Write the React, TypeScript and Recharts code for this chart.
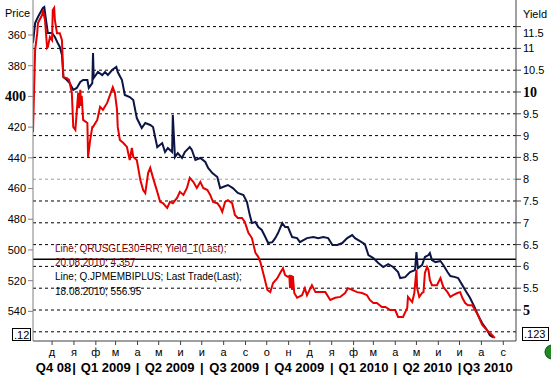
import React from 'react';
import { LineChart, Line, XAxis, YAxis, ReferenceLine } from 'recharts';

const SANS = '"Liberation Sans", Arial, sans-serif';
const SERIF = '"Liberation Serif", "Times New Roman", serif';

// x values are calendar days counted from 4 Nov 2008
const START = Date.UTC(2008, 10, 4);
const SPAN = 684;

const monthStarts = [
  '2008-12-01', '2009-01-01', '2009-02-01', '2009-03-01', '2009-04-01', '2009-05-01',
  '2009-06-01', '2009-07-01', '2009-08-01', '2009-09-01', '2009-10-01', '2009-11-01',
  '2009-12-01', '2010-01-01', '2010-02-01', '2010-03-01', '2010-04-01', '2010-05-01',
  '2010-06-01', '2010-07-01', '2010-08-01', '2010-09-01',
];
const monthLetters = ['д', 'я', 'ф', 'м', 'а', 'м', 'и', 'и', 'а', 'с', 'о', 'н', 'д', 'я', 'ф', 'м', 'а', 'м', 'и', 'и', 'а', 'с'];

const quarterStarts = ['2008-10-01', '2009-01-01', '2009-04-01', '2009-07-01', '2009-10-01', '2010-01-01', '2010-04-01', '2010-07-01', '2010-10-01'];
const quarterLabels = ['Q4 08', 'Q1 2009', 'Q2 2009', 'Q3 2009', 'Q4 2009', 'Q1 2010', 'Q2 2010', 'Q3 2010'];

const priceTicks = [360, 380, 400, 420, 440, 460, 480, 500, 520, 540];
const yieldTicks = [5, 5.5, 6, 6.5, 7, 7.5, 8, 8.5, 9, 9.5, 10, 10.5, 11, 11.5];
const gridValues = [4.5, 5, 5.5, 6, 6.5, 7, 7.5, 8, 8.5, 9, 9.5, 10, 10.5, 11, 11.5];
const markerYield = 6.163;

// Q.JPMEMBIPLUS, Last Trade
const priceDays = [0, 3, 7, 14, 16, 18, 21, 27, 31, 35, 38, 41, 43, 48, 52, 57, 62, 67, 71, 77, 79, 84, 85, 86, 92, 98, 102, 106, 112, 118, 120, 126, 130, 137, 142, 147, 154, 159, 166, 170, 176, 183, 187, 191, 197, 198, 201, 205, 211, 215, 222, 225, 230, 237, 244, 248, 254, 261, 265, 269, 276, 283, 290, 298, 303, 307, 310, 315, 319, 324, 329, 333, 339, 343, 347, 353, 357, 361, 367, 374, 378, 383, 388, 397, 404, 411, 418, 424, 431, 438, 445, 452, 456, 463, 470, 475, 482, 489, 496, 503, 510, 517, 520, 527, 534, 541, 543, 545, 551, 555, 560, 562, 565, 570, 577, 581, 587, 591, 598, 602, 608, 612, 619, 626, 630, 636, 643, 647, 652];
const priceValues = [365.2, 352.2, 348.3, 342.4, 341.8, 348.9, 358.7, 358.7, 361.3, 365.2, 367.8, 373.0, 387.4, 389.3, 391.3, 395.8, 394.5, 390.6, 389.3, 389.3, 394.5, 391.3, 371.7, 388.0, 384.1, 386.1, 384.1, 386.1, 382.8, 380.8, 384.1, 389.3, 399.1, 400.4, 402.3, 414.1, 420.6, 417.3, 418.6, 419.9, 433.0, 430.4, 436.2, 433.6, 436.2, 412.1, 439.5, 436.9, 440.1, 436.2, 433.0, 434.9, 441.4, 440.1, 442.7, 446.6, 449.9, 452.5, 459.7, 459.0, 457.7, 459.7, 462.9, 464.2, 468.8, 477.3, 482.5, 481.8, 485.1, 487.0, 491.6, 495.5, 494.9, 492.3, 489.0, 482.5, 485.1, 485.1, 491.6, 492.3, 494.9, 493.6, 492.3, 491.6, 492.3, 491.6, 492.3, 496.8, 496.8, 495.5, 492.3, 490.3, 492.3, 494.2, 496.2, 503.3, 505.3, 508.5, 511.1, 509.2, 511.1, 514.4, 518.3, 517.7, 514.4, 513.1, 501.4, 511.8, 509.8, 504.6, 503.3, 502.0, 506.6, 507.9, 507.2, 509.8, 514.4, 517.0, 517.7, 518.3, 522.9, 526.1, 531.3, 537.9, 542.4, 547.6, 552.2, 555.5, 556.95];

// QRUSGLE30=RR, Yield_1
const yieldDays = [0, 3, 6, 7, 13, 14, 17, 20, 21, 24, 27, 28, 30, 31, 34, 38, 41, 43, 48, 51, 55, 57, 60, 64, 65, 67, 68, 69, 71, 77, 78, 81, 84, 85, 91, 95, 99, 105, 109, 113, 116, 119, 120, 123, 128, 133, 137, 140, 142, 147, 152, 156, 159, 163, 166, 170, 176, 180, 184, 190, 194, 198, 204, 208, 213, 218, 222, 227, 232, 237, 241, 247, 251, 255, 261, 265, 268, 272, 276, 282, 286, 290, 296, 300, 305, 310, 315, 319, 322, 326, 332, 336, 340, 346, 350, 354, 357, 361, 363, 364, 366, 367, 368, 370, 374, 381, 385, 388, 395, 400, 407, 414, 421, 428, 435, 442, 446, 452, 459, 466, 473, 477, 482, 487, 494, 499, 506, 513, 517, 524, 530, 531, 537, 540, 543, 544, 547, 551, 553, 555, 558, 560, 562, 565, 572, 577, 581, 587, 591, 595, 601, 605, 608, 612, 616, 622, 626, 630, 636, 640, 645, 650, 654];
const yieldValues = [9.08, 10.96, 11.35, 11.58, 11.77, 11.88, 11.65, 11.01, 11.03, 11.26, 11.19, 11.88, 11.93, 11.65, 11.35, 11.35, 11.19, 10.34, 10.32, 10.28, 9.98, 9.2, 9.13, 9.98, 9.63, 10.05, 9.68, 9.91, 9.36, 9.29, 8.51, 8.9, 9.2, 9.2, 9.36, 9.66, 9.59, 9.75, 9.93, 10.11, 9.98, 9.59, 9.2, 8.9, 8.83, 8.74, 8.44, 8.72, 8.51, 8.44, 7.98, 7.75, 7.68, 8.14, 8.26, 8.03, 7.71, 7.48, 7.45, 7.34, 7.48, 7.45, 7.57, 7.71, 7.64, 7.8, 8.03, 7.94, 7.8, 7.94, 7.8, 7.75, 7.64, 7.48, 7.45, 7.36, 7.25, 7.48, 7.52, 7.45, 7.18, 7.11, 7.11, 7.02, 6.77, 6.65, 6.31, 6.22, 6.1, 5.85, 5.46, 5.41, 5.62, 5.73, 5.85, 5.96, 5.8, 5.76, 5.78, 5.5, 5.8, 5.46, 5.78, 5.39, 5.28, 5.34, 5.5, 5.34, 5.57, 5.41, 5.41, 5.41, 5.23, 5.28, 5.3, 5.39, 5.5, 5.46, 5.41, 5.39, 5.34, 5.23, 5.16, 5.16, 5.07, 5.07, 5.0, 5.0, 4.84, 4.84, 5.05, 5.3, 5.18, 5.39, 5.92, 5.5, 5.3, 5.39, 5.41, 5.85, 5.99, 5.92, 5.69, 5.57, 5.57, 5.73, 5.53, 5.41, 5.3, 5.34, 5.39, 5.41, 5.28, 5.16, 5.11, 5.11, 5.0, 4.89, 4.66, 4.59, 4.5, 4.43, 4.357];

const dayOf = (iso: string) => {
  const [y, m, d] = iso.split('-').map(Number);
  return Math.round((Date.UTC(y, m - 1, d) - START) / 86400000);
};

const priceData = priceDays.map((d, i) => ({ d, v: priceValues[i] }));
const yieldData = yieldDays.map((d, i) => ({ d, v: yieldValues[i] }));

const monthTicks = monthStarts.map(dayOf);
const monthLetterMap = new Map(monthTicks.map((t, i) => [t, monthLetters[i]]));

const quarterTicks: number[] = [];
const quarterText = new Map<number, string>();
quarterLabels.forEach((label, i) => {
  const a = Math.max(0, dayOf(quarterStarts[i]));
  const b = Math.min(SPAN, dayOf(quarterStarts[i + 1]));
  const mid = (a + b) / 2;
  quarterTicks.push(mid);
  quarterText.set(mid, label);
  if (i > 0) {
    quarterTicks.push(a);
    quarterText.set(a, '|');
  }
});

const PriceTick = (props: any) => {
  const { x, y, payload } = props;
  const bold = payload.value === 400;
  return (
    <text x={x} y={y} dy="0.355em" textAnchor="end" fill="#000"
      fontFamily={bold ? SERIF : SANS} fontSize={bold ? 14 : 11} fontWeight={bold ? 'bold' : 'normal'}>
      {payload.value}
    </text>
  );
};

const YieldTick = (props: any) => {
  const { x, y, payload } = props;
  const bold = payload.value === 10 || payload.value === 5;
  const shift = payload.value === 11.5 ? 6 : 0;
  return (
    <text x={x} y={y + shift} dy="0.355em" textAnchor="start" fill="#000"
      fontFamily={bold ? SERIF : SANS} fontSize={bold ? 14 : 11} fontWeight={bold ? 'bold' : 'normal'}>
      {payload.value}
    </text>
  );
};

const QuarterTick = (props: any) => {
  const { x, y, payload } = props;
  return (
    <text x={x} y={y + 12} textAnchor="middle" fill="#000" fontFamily={SANS} fontSize={13} fontWeight="bold">
      {quarterText.get(payload.value)}
    </text>
  );
};

export default function App() {
  return (
    <div style={{ position: 'absolute', left: 0, top: 0, width: 551, height: 380, background: '#fff' }}>
      <LineChart width={551} height={380} margin={{ top: 0, right: 0, bottom: 0, left: 0 }}>
        <XAxis xAxisId="main" type="number" dataKey="d" domain={[0, SPAN]} allowDataOverflow
          ticks={monthTicks} interval={0} height={19} tickSize={4} tickMargin={3}
          tickFormatter={(v: number) => monthLetterMap.get(v) || ''}
          stroke="#404040" tick={{ fontSize: 11, fill: '#000', fontFamily: SANS }} />
        <XAxis xAxisId="q" type="number" dataKey="d" domain={[0, SPAN]} allowDataOverflow
          ticks={quarterTicks} interval={0} height={20} tickSize={0} tickMargin={0}
          axisLine={false} tickLine={false} tick={(p: any) => <QuarterTick {...p} />} />
        <XAxis xAxisId="top" orientation="top" type="number" dataKey="d" domain={[0, SPAN]} allowDataOverflow
          ticks={monthTicks} interval={0} height={0} mirror tick={false} tickSize={4}
          axisLine={false} stroke="#404040" />
        <YAxis yAxisId="price" reversed domain={[337.2, 559.3]} allowDataOverflow ticks={priceTicks}
          interval={0} width={33} tickSize={5} tickMargin={2} stroke="#808080"
          tick={(p: any) => <PriceTick {...p} />} />
        <YAxis yAxisId="yield" orientation="right" domain={[4.289, 12.11]} allowDataOverflow ticks={yieldTicks}
          interval={0} width={35} tickSize={5} tickMargin={2} stroke="#404040"
          tick={(p: any) => <YieldTick {...p} />} />
        {gridValues.map((v) => (
          <ReferenceLine key={v} xAxisId="main" yAxisId="yield" y={v}
            stroke={v === 8 ? '#a0a0a0' : '#000'} strokeDasharray="3 3" />
        ))}
        <ReferenceLine xAxisId="main" yAxisId="yield" y={markerYield} stroke="#000" strokeWidth={1.5} />
        <Line xAxisId="main" yAxisId="price" data={priceData} dataKey="v" type="linear"
          stroke="#0d1446" strokeWidth={2} dot={false} isAnimationActive={false} />
        <Line xAxisId="main" yAxisId="yield" data={yieldData} dataKey="v" type="linear"
          stroke="#e60000" strokeWidth={2} dot={false} isAnimationActive={false} />
      </LineChart>
      <svg width={551} height={380} style={{ position: 'absolute', left: 0, top: 0, pointerEvents: 'none' }}>
        <text x={5} y={17} fontFamily={SANS} fontSize={11} fill="#000">Price</text>
        <text x={523} y={18} fontFamily={SANS} fontSize={11} fill="#000">Yield</text>
        <text x={55} y={252} fontFamily={SANS} fontSize={10} fill="#800000">Line; QRUSGLE30=RR; Yield_1(Last);</text>
        <text x={55} y={265.5} fontFamily={SANS} fontSize={10} fill="#800000">20.08.2010; 4.357</text>
        <text x={55} y={280} fontFamily={SANS} fontSize={10} fill="#000">Line; Q.JPMEMBIPLUS; Last Trade(Last);</text>
        <text x={55} y={294.5} fontFamily={SANS} fontSize={10} fill="#000">18.08.2010; 556.95</text>
        <rect x={12.5} y={328.5} width={18} height={12} fill="#fff" stroke="#000" />
        <text x={14} y={338.5} fontFamily={SANS} fontSize={11} fill="#000">.12</text>
        <rect x={522.5} y={327.5} width={26} height={13} fill="#fff" stroke="#000" />
        <text x={524} y={338} fontFamily={SANS} fontSize={11} fill="#000">.123</text>
        <circle cx={552} cy={352} r={7} fill="#1f8a1f" stroke="#0b4d0b" />
      </svg>
    </div>
  );
}
